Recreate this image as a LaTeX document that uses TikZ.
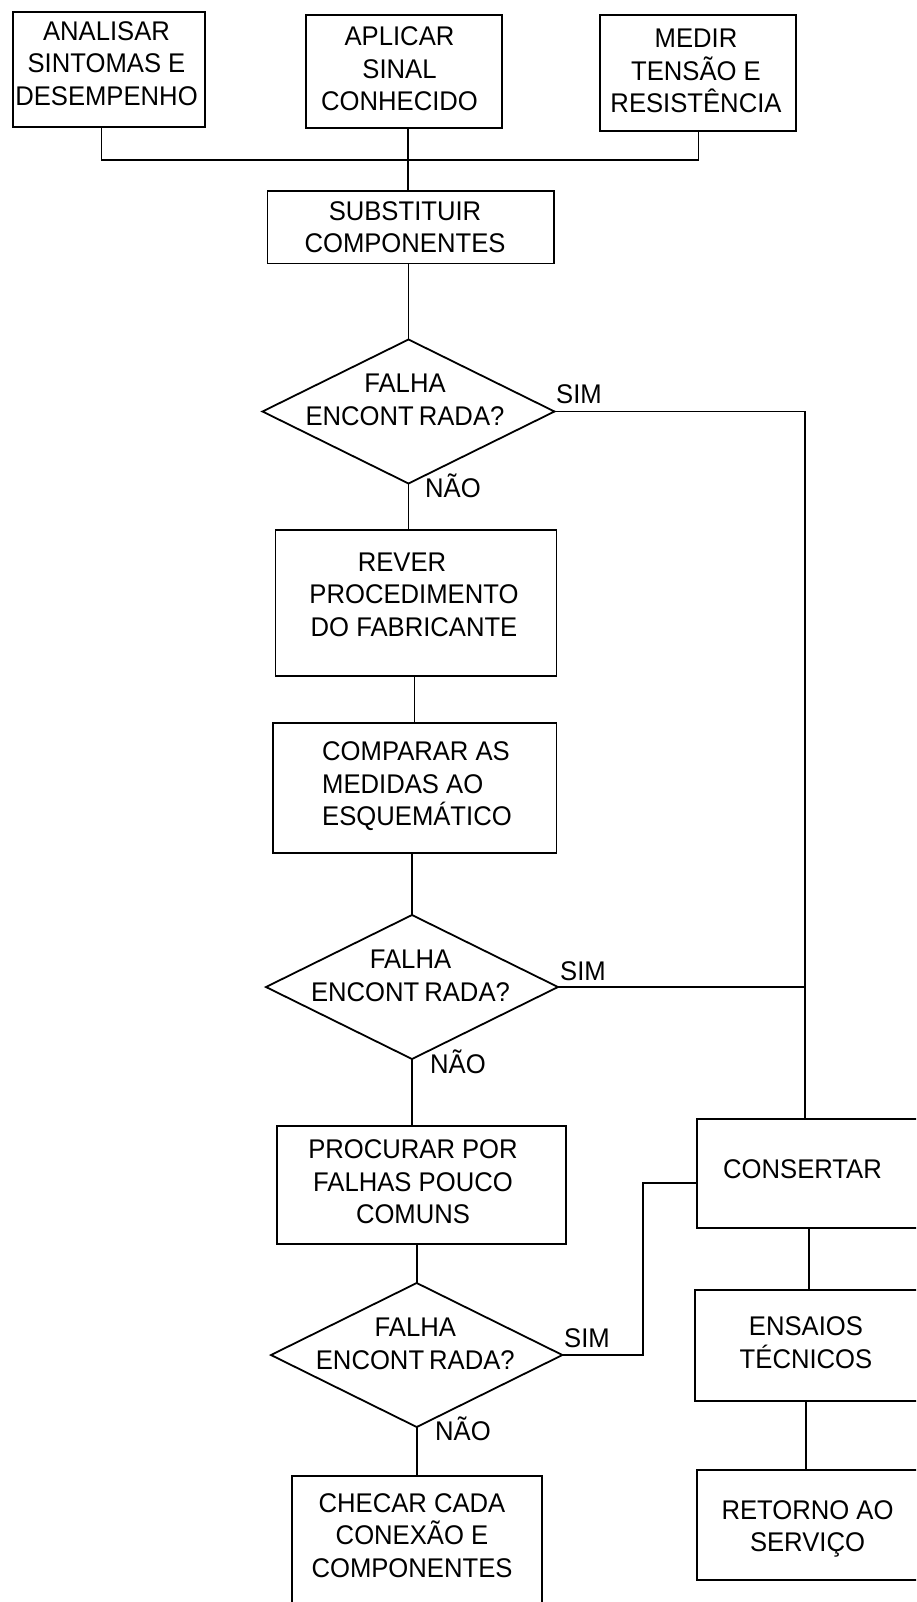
\documentclass[tikz,border=0pt]{standalone}
\usepackage{fontspec}
\setmainfont[FakeStretch=0.95]{Liberation Sans}
\usetikzlibrary{shapes.geometric}
\begin{document}
\begin{tikzpicture}[x=1pt,y=-1pt,
  every node/.style={font=\fontsize{27}{32.5}\selectfont},
  box/.style={draw, rectangle, line width=1.8pt, inner sep=0pt, outer sep=0pt},
  dia/.style={draw, diamond, line width=1.8pt, inner sep=0pt, outer sep=0pt,
              minimum width=292pt, minimum height=144pt},
  txt/.style={align=center, inner sep=0pt},
  lab/.style={anchor=base west, inner sep=0pt},
  conn/.style={line width=1.8pt}]
\useasboundingbox (0,0) rectangle (916,1602);
\clip (0,0) rectangle (916,1602);

% ---- top boxes
\node[box, minimum width=192.3pt, minimum height=115pt] (b1) at (108.85,69.2) {};
\node[txt] (b1t) at (106.5,63.5) {ANALISAR\\SINTOMAS E\\DESEMPENHO};
\node[box, minimum width=196.4pt, minimum height=112.3pt] (b2) at (403.8,71.5) {};
\node[txt] (b2t) at (399.5,69) {APLICAR\\SINAL\\CONHECIDO};
\node[box, minimum width=195.6pt, minimum height=115.4pt] (b3) at (697.8,73) {};
\node[txt] (b3t) at (696,71) {MEDIR\\TENSÃO E\\RESISTÊNCIA};

\coordinate (j1) at (101.5,160.3);
\coordinate (j2) at (408,160.3);
\coordinate (j3) at (698.5,160.3);

% ---- main column
\node[box, minimum width=286.5pt, minimum height=72.5pt] (sub) at (410.75,227.25) {};
\node[txt] (subt) at (405,227) {SUBSTITUIR\\COMPONENTES};

\node[dia] (d1) at (408.5,411.5) {};
\node[txt] (d1t) at (405,400) {FALHA\\ENCONT\kern5pt RADA?};
\node[lab] (sim1) at (556,403) {SIM};
\node[lab] (nao1) at (425,497) {NÃO};

\node[box, minimum width=281pt, minimum height=146pt] (rever) at (416,603) {};
\node[txt] (revert) at (414,594.5) {REVER\rule{24pt}{0pt}\\PROCEDIMENTO\\DO FABRICANTE};

\coordinate (c1) at (414.5,700);
\node[box, minimum width=283.5pt, minimum height=129.7pt] (comp) at (414.75,787.85) {};
\node[txt, align=left, anchor=west] (compt) at (322,786.3) {COMPARAR AS\\MEDIDAS AO\\ESQUEMÁTICO};

\node[dia] (d2) at (412,987) {};
\node[txt] (d2t) at (410.5,976) {FALHA\\ENCONT\kern5pt RADA?};
\node[lab] (sim2) at (560,980) {SIM};
\node[lab] (nao2) at (430,1073) {NÃO};

\node[box, minimum width=289.3pt, minimum height=118pt] (proc) at (421.35,1185) {};
\node[txt] (proct) at (413,1182) {PROCURAR POR\\FALHAS POUCO\\COMUNS};

\node[dia, minimum width=291.4pt] (d3) at (416.7,1355) {};
\node[txt] (d3t) at (415.3,1344) {FALHA\\ENCONT\kern5pt RADA?};
\node[lab] (sim3) at (564,1347) {SIM};
\node[lab] (nao3) at (435,1440) {NÃO};

\node[box, minimum width=249.4pt, minimum height=164pt] (chk) at (417,1558) {};
\node[txt] (chkt) at (412,1535.5) {CHECAR CADA\\CONEXÃO E\\COMPONENTES};

% ---- right column
\node[box, minimum width=233pt, minimum height=109pt] (cons) at (813.5,1173.5) {};
\node[txt] (const) at (802.5,1169) {CONSERTAR};
\node[box, minimum width=235.3pt, minimum height=110.7pt] (ens) at (812.35,1345.35) {};
\node[txt] (enst) at (806,1342.5) {ENSAIOS\\TÉCNICOS};
\node[box, minimum width=233.3pt, minimum height=110pt] (ret) at (813.35,1525) {};
\node[txt] (rett) at (807.5,1529) {RETORNO AO\\SERVIÇO};

\coordinate (s1) at (805,411.5);
\coordinate (s3) at (643,1183);
\coordinate (c2) at (809,1250);
\coordinate (c3) at (806,1430);

% ---- connectors
\draw[conn] (b1.south -| j1) -- (j1) -- (j3) -- (b3.south -| j3);
\draw[conn] (b2.south -| j2) -- (sub.north -| j2);
\draw[conn] (sub.south -| d1.north) -- (d1.north);
\draw[conn] (d1.east) -- (s1) -- (cons.north -| s1);
\draw[conn] (d1.south) -- (d1.south |- rever.north);
\draw[conn] (rever.south -| c1) -- (comp.north -| c1);
\draw[conn] (comp.south -| d2.north) -- (d2.north);
\draw[conn] (d2.east) -- (d2.east -| s1);
\draw[conn] (d2.south) -- (d2.south |- proc.north);
\draw[conn] (proc.south -| d3.north) -- (d3.north);
\draw[conn] (d3.south) -- (d3.south |- chk.north);
\draw[conn] (d3.east) -| (s3) -- (s3 -| cons.west);
\draw[conn] (cons.south -| c2) -- (ens.north -| c2);
\draw[conn] (ens.south -| c3) -- (ret.north -| c3);
\end{tikzpicture}
\end{document}
